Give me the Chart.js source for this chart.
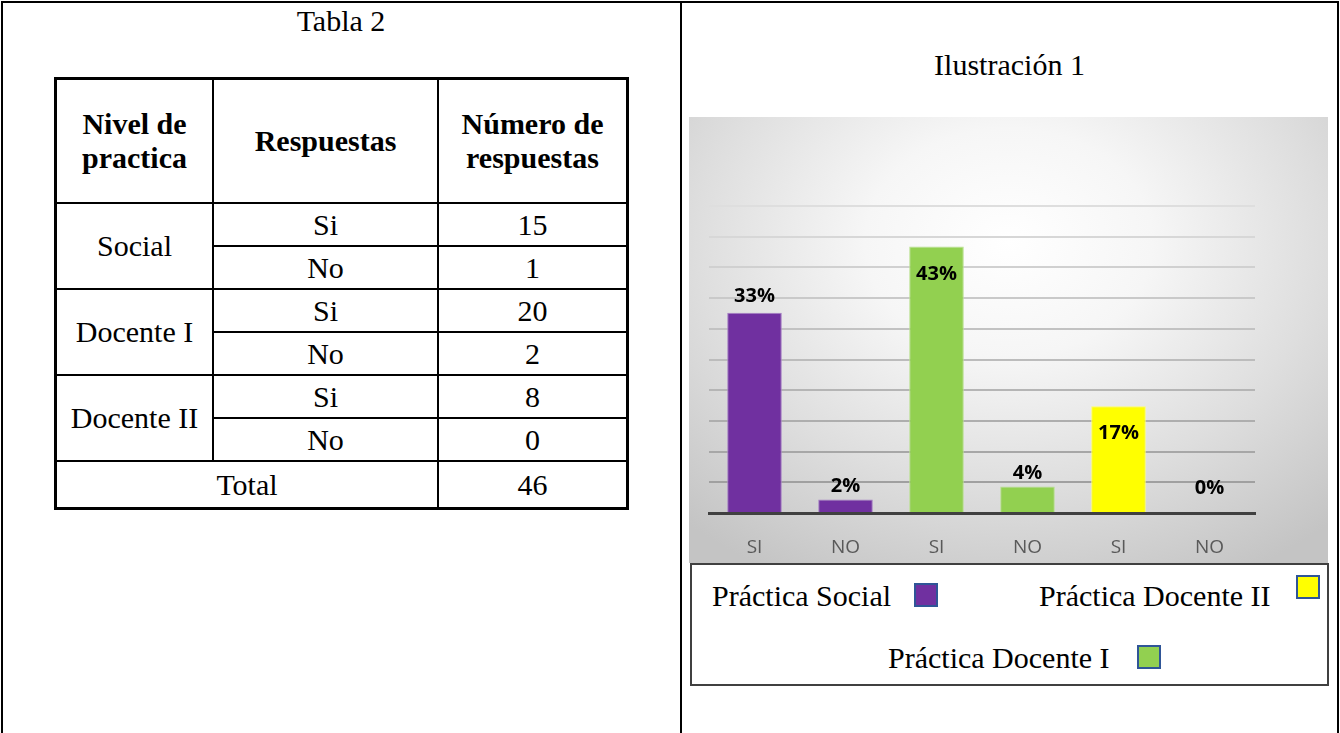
<!DOCTYPE html>
<html>
<head>
<meta charset="utf-8">
<script src="https://cdn.jsdelivr.net/npm/chart.js@4"></script>
<style>
  body { margin: 0; width: 1340px; height: 733px; background: #fff; position: relative; overflow: hidden; font-family: "Liberation Serif", "Times New Roman", serif; }
  #frame { position: absolute; left: 1px; top: 1px; width: 1334px; height: 800px; border: 2px solid #000; }
  #divider { position: absolute; left: 680px; top: 1px; width: 2px; height: 740px; background: #000; }
  .caption { position: absolute; font-size: 30px; line-height: 30px; color: #000; text-align: center; }
  #tbl { position: absolute; left: 54px; top: 77px; width: 575px; border-collapse: collapse; border: 3px solid #000; font-size: 30px; }
  #tbl td, #tbl th { border: 2px solid #000; text-align: center; padding: 0; line-height: 34px; }
  #tbl th { font-weight: bold; height: 122px; }
  #tbl td { height: 41px; }
  #chartBox { position: absolute; left: 689px; top: 117px; width: 639px; height: 446px;
    background: radial-gradient(ellipse 75% 85% at 50% 28%, #ffffff 0%, #f6f6f6 30%, #dedede 65%, #c4c4c4 100%); }
  #chartBox canvas { display: block; }
  #legendBox { position: absolute; left: 690px; top: 563px; width: 635px; height: 119px; border: 2px solid #404040; background: #fff; }
  .lg { position: absolute; font-size: 30px; line-height: 30px; white-space: nowrap; }
  .sw { position: absolute; width: 20px; height: 20px; border: 2px solid #2f5597; }
</style>
</head>
<body>
<div id="frame"></div>
<div id="divider"></div>
<div class="caption" style="left:2px; width:678px; top:6px;">Tabla 2</div>
<table id="tbl"></table>
<div class="caption" style="left:682px; width:655px; top:50px;">Ilustración 1</div>
<div id="chartBox"><canvas id="myChart" width="639" height="446"></canvas></div>
<div id="legendBox"></div>
<script>
// table data
const levels = ['Social', 'Docente I', 'Docente II'];
const answers = ['Si', 'No'];
const counts = [15, 1, 20, 2, 8, 0];
const totalCount = 46;

// chart data
const categories = ['SI', 'NO', 'SI', 'NO', 'SI', 'NO'];
const percents = [32.6, 2.2, 43.4, 4.3, 17.4, 0];
const seriesNames = ['Práctica Social', 'Práctica Docente I', 'Práctica Docente II'];
const seriesColors = ['#7030a0', '#92d050', '#ffff00'];
const barSeries = [0, 0, 1, 1, 2, 2];

// build the table
let html = '<tr><th style="width:155px">Nivel de<br>practica</th><th style="width:223px">Respuestas</th><th>Número de<br>respuestas</th></tr>';
levels.forEach((lv, i) => {
  answers.forEach((a, j) => {
    html += '<tr>';
    if (j === 0) html += '<td rowspan="2">' + lv + '</td>';
    html += '<td>' + a + '</td><td>' + counts[i * 2 + j] + '</td></tr>';
  });
});
html += '<tr><td colspan="2" style="height:45px">Total</td><td style="height:45px">' + totalCount + '</td></tr>';
document.getElementById('tbl').innerHTML = html;

// legend (text then swatch)
const legendPos = [
  { left: 20, top: 16, sw: [222, 18] },
  { left: 196, top: 78, sw: [445, 80] },
  { left: 347, top: 16, sw: [604, 10] }
];
const legendBox = document.getElementById('legendBox');
seriesNames.forEach((name, i) => {
  const p = legendPos[i];
  const t = document.createElement('div');
  t.className = 'lg';
  t.style.left = p.left + 'px';
  t.style.top = p.top + 'px';
  t.textContent = name;
  legendBox.appendChild(t);
  const s = document.createElement('div');
  s.className = 'sw';
  s.style.left = p.sw[0] + 'px';
  s.style.top = p.sw[1] + 'px';
  s.style.background = seriesColors[i];
  legendBox.appendChild(s);
});

const labelOffset = [-17, -13, 28, -13, 27, -25];
const borderTint = { '#7030a0': '#a57fc4', '#92d050': '#b9e08f', '#ffff00': '#ffff66' };

const valueLabels = {
  id: 'valueLabels',
  afterDatasetsDraw(chart) {
    const c = chart.ctx;
    const meta = chart.getDatasetMeta(0);
    c.save();
    c.font = 'bold 20px "Open Sans"';
    c.fillStyle = '#000';
    c.textAlign = 'center';
    c.textBaseline = 'middle';
    meta.data.forEach((bar, i) => {
      c.fillText(Math.round(percents[i]) + '%', bar.x, bar.y + labelOffset[i]);
    });
    c.restore();
  }
};

let ctx = document.getElementById('myChart').getContext('2d');
const myChart = new Chart(ctx, {
  type: 'bar',
  data: {
    labels: categories,
    datasets: [
      {
        data: percents,
        backgroundColor: barSeries.map(s => seriesColors[s]),
        borderColor: barSeries.map(s => borderTint[seriesColors[s]]),
        borderWidth: 1,
        barPercentage: 0.6,
        categoryPercentage: 1
      }
    ]
  },
  options: {
    responsive: false,
    animation: false,
    devicePixelRatio: 1,
    layout: { padding: { left: 20, right: 73, top: 89, bottom: 0 } },
    plugins: { legend: { display: false }, tooltip: { enabled: false } },
    scales: {
      x: {
        afterFit: scale => { scale.height = 50; },
        grid: { display: false, drawTicks: false },
        border: { display: true, color: '#404040', width: 3 },
        ticks: { color: '#595959', font: { family: 'Open Sans', size: 19 }, padding: 23 }
      },
      y: {
        min: 0,
        max: 50,
        ticks: { display: false, stepSize: 5 },
        border: { display: false },
        grid: {
          drawTicks: false,
          lineWidth: 2,
          color: c => {
            const g = Math.round(222 - (50 - c.tick.value) * 62 / 45);
            return 'rgb(' + g + ',' + g + ',' + g + ')';
          }
        }
      }
    }
  },
  plugins: [valueLabels]
});
</script>
</body>
</html>
